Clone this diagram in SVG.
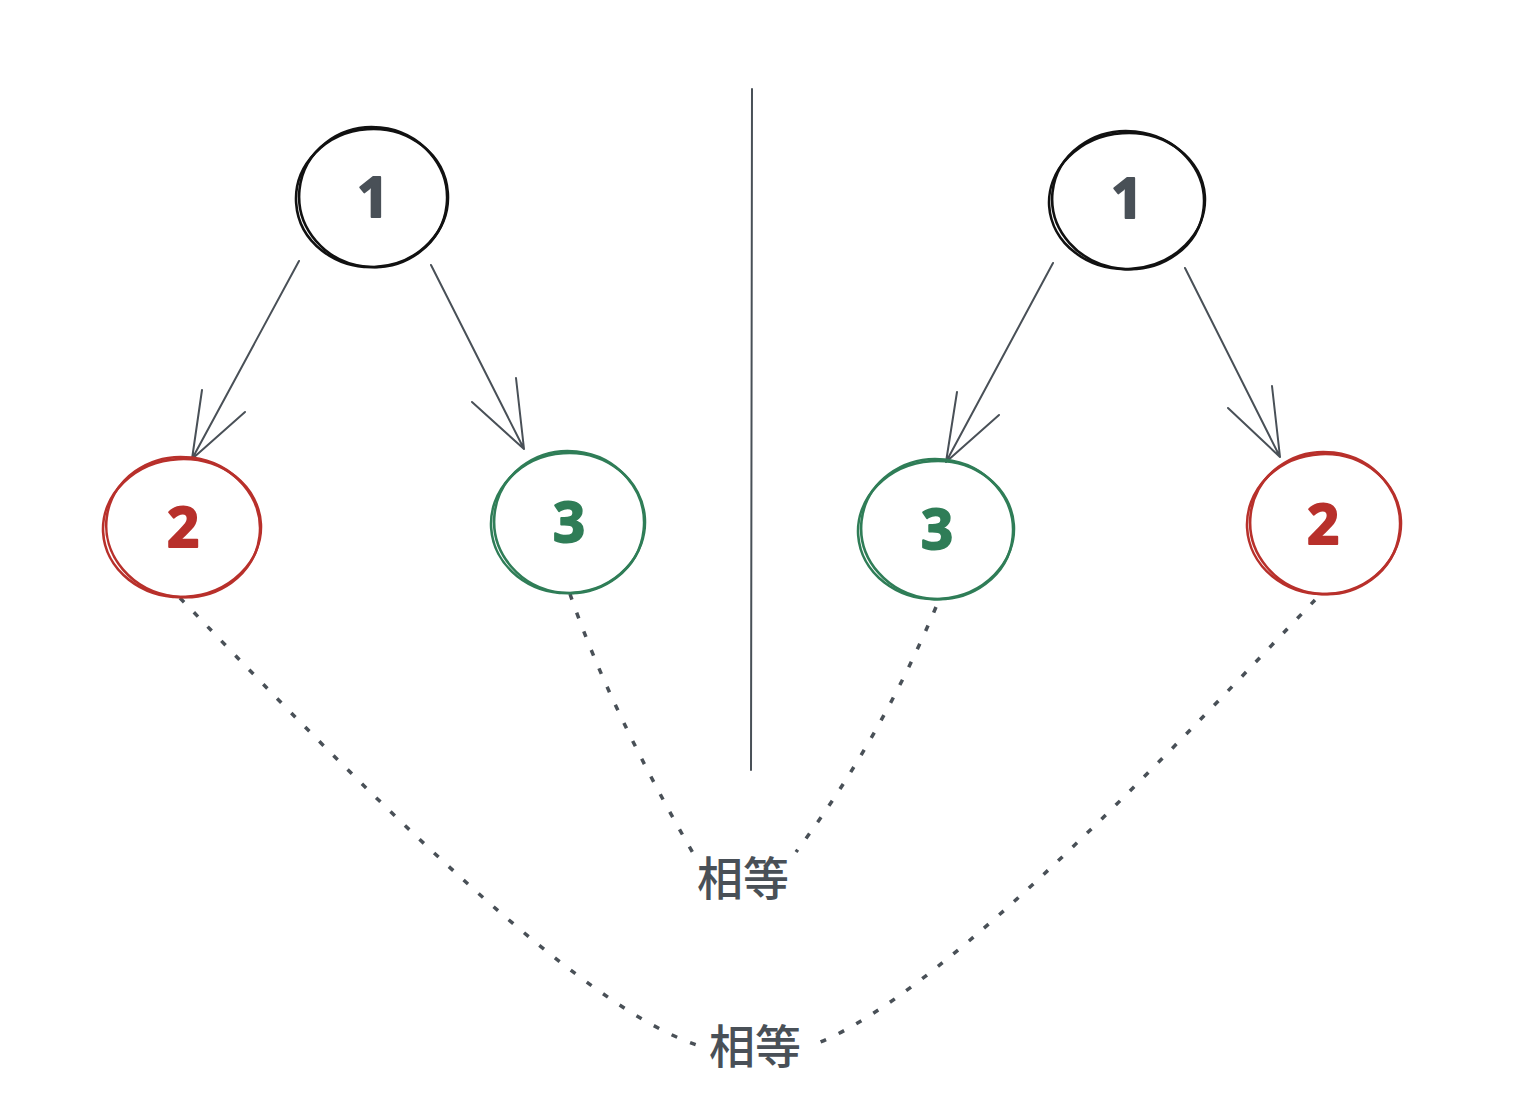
<svg xmlns="http://www.w3.org/2000/svg" width="1518" height="1108" viewBox="0 0 1518 1108">
<style>
.ring{fill:none;stroke-width:2.6;stroke-linecap:round}
.k{stroke:#111}
.r{stroke:#b8302b}
.g{stroke:#2f7d57}
.dig{font-family:"Noto Sans","DejaVu Sans",sans-serif;font-size:56px;font-weight:700;text-anchor:middle;stroke-width:2;stroke-linejoin:round}
.d1{fill:#495057;stroke:#495057}
.d2{fill:#b8302b;stroke:#b8302b}
.d3{fill:#2f7d57;stroke:#2f7d57}
.edge{fill:none;stroke:#495057;stroke-width:2;stroke-linecap:round;stroke-linejoin:round}
.dot{fill:none;stroke:#495057;stroke-width:3.5;stroke-dasharray:6 14}
.lbl{font-family:"Noto Sans CJK SC","Noto Sans",sans-serif;font-size:46px;font-weight:500;fill:#495057;text-anchor:middle}
</style>
<rect width="1518" height="1108" fill="#fff"/>
<g id="connectors">
<path class="edge" d="M299,261 L192,459 M202,390 L192,459 L245,412"/>
<path class="edge" d="M431,265 L524,449 M516,378 L524,449 L472,402"/>
<path class="edge" d="M1053,263 L946,462 M957,392 L946,462 L999,415"/>
<path class="edge" d="M1185,268 L1280,457 M1272,386 L1280,457 L1228,408"/>
<path class="edge" d="M752,89 L751,770"/>
<path class="dot" d="M180,598 C300,722 560,1000 697,1045"/>
<path class="dot" d="M1315,600 C1190,730 950,990 818,1043"/>
<path class="dot" d="M570,594 Q610,710 697,860"/>
<path class="dot" d="M936,607 Q880,740 796,852"/>
</g>
<g id="L1">
<ellipse class="ring k" cx="372" cy="198" rx="76" ry="69" transform="rotate(-4 372 198)"/>
<ellipse class="ring k" cx="373" cy="197" rx="74" ry="70" transform="rotate(6 372 198)"/>
<text class="dig d1" x="373" y="217">1</text>
</g>
<g id="L2">
<ellipse class="ring r" cx="182" cy="528" rx="79" ry="69" transform="rotate(-3 182 528)"/>
<ellipse class="ring r" cx="183" cy="527" rx="77" ry="70" transform="rotate(7 182 528)"/>
<text class="dig d2" x="183" y="547">2</text>
</g>
<g id="L3">
<ellipse class="ring g" cx="568" cy="523" rx="77" ry="70" transform="rotate(-4 568 523)"/>
<ellipse class="ring g" cx="569" cy="522" rx="75" ry="71" transform="rotate(6 568 523)"/>
<text class="dig d3" x="569" y="542">3</text>
</g>
<g id="R1">
<ellipse class="ring k" cx="1127" cy="201" rx="78" ry="68" transform="rotate(-4 1127 201)"/>
<ellipse class="ring k" cx="1128" cy="200" rx="76" ry="69" transform="rotate(6 1127 201)"/>
<text class="dig d1" x="1127" y="218">1</text>
</g>
<g id="R3">
<ellipse class="ring g" cx="936" cy="530" rx="78" ry="69" transform="rotate(-4 936 530)"/>
<ellipse class="ring g" cx="937" cy="529" rx="76" ry="70" transform="rotate(6 936 530)"/>
<text class="dig d3" x="937" y="549">3</text>
</g>
<g id="R2">
<ellipse class="ring r" cx="1324" cy="524" rx="77" ry="70" transform="rotate(-3 1324 524)"/>
<ellipse class="ring r" cx="1325" cy="523" rx="75" ry="71" transform="rotate(7 1324 524)"/>
<text class="dig d2" x="1323" y="544">2</text>
</g>
<g id="labels">
<text class="lbl" x="743" y="895">相等</text>
<text class="lbl" x="755" y="1063">相等</text>
</g>
</svg>
